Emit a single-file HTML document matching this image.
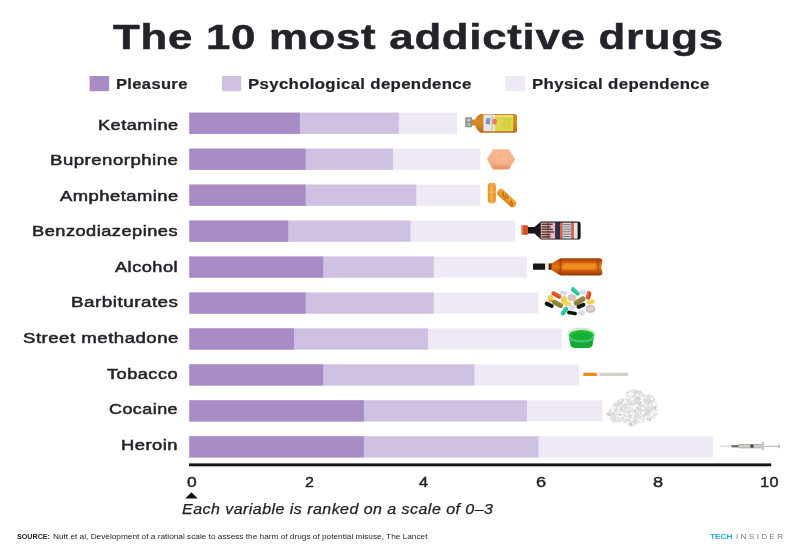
<!DOCTYPE html>
<html><head><meta charset="utf-8"><title>The 10 most addictive drugs</title>
<style>
html,body{margin:0;padding:0;background:#fff;}
body{width:800px;height:555px;position:relative;overflow:hidden;font-family:"Liberation Sans",sans-serif;color:#23232a;}
.t{position:absolute;white-space:nowrap;transform-origin:0 0;line-height:1;}
.a{position:absolute;}
.sw{position:absolute;top:76px;width:19.5px;height:15.2px;}
.bar{position:absolute;height:21.20px;}
.p1{background:#a88cc6;}
.p2{background:#cfc1e2;}
.p3{background:#efe9f6;}
#w{position:absolute;left:0;top:0;width:800px;height:555px;background:#fff;filter:blur(0.45px);}
</style></head><body><div id="w">

<div class="t" id="title" style="left:113.11px;top:20.00px;font-size:35.8px;font-weight:bold;letter-spacing:0.6px;-webkit-text-stroke:0.5px #23232a;transform:scaleX(1.2225);">The 10 most addictive drugs</div>
<div class="t" id="lg1" style="left:116.32px;top:76.75px;font-size:14px;font-weight:bold;letter-spacing:0.3px;-webkit-text-stroke:0.2px #23232a;transform:scaleX(1.1793);">Pleasure</div>
<div class="t" id="lg2" style="left:248.32px;top:76.75px;font-size:14px;font-weight:bold;letter-spacing:0.3px;-webkit-text-stroke:0.2px #23232a;transform:scaleX(1.1966);">Psychological dependence</div>
<div class="t" id="lg3" style="left:532.32px;top:76.75px;font-size:14px;font-weight:bold;letter-spacing:0.3px;-webkit-text-stroke:0.2px #23232a;transform:scaleX(1.1997);">Physical dependence</div>
<div class="t" id="lab0" style="left:97.80px;top:116.52px;font-size:15.1px;letter-spacing:0.4px;-webkit-text-stroke:0.5px #23232a;transform:scaleX(1.2030);">Ketamine</div>
<div class="t" id="lab1" style="left:49.98px;top:152.10px;font-size:15.1px;letter-spacing:0.4px;-webkit-text-stroke:0.5px #23232a;transform:scaleX(1.2319);">Buprenorphine</div>
<div class="t" id="lab2" style="left:59.60px;top:187.68px;font-size:15.1px;letter-spacing:0.4px;-webkit-text-stroke:0.5px #23232a;transform:scaleX(1.2177);">Amphetamine</div>
<div class="t" id="lab3" style="left:32.49px;top:223.26px;font-size:15.1px;letter-spacing:0.4px;-webkit-text-stroke:0.5px #23232a;transform:scaleX(1.2074);">Benzodiazepines</div>
<div class="t" id="lab4" style="left:115.30px;top:258.84px;font-size:15.1px;letter-spacing:0.4px;-webkit-text-stroke:0.5px #23232a;transform:scaleX(1.2046);">Alcohol</div>
<div class="t" id="lab5" style="left:71.06px;top:294.42px;font-size:15.1px;letter-spacing:0.4px;-webkit-text-stroke:0.5px #23232a;transform:scaleX(1.2475);">Barbiturates</div>
<div class="t" id="lab6" style="left:22.51px;top:330.00px;font-size:15.1px;letter-spacing:0.4px;-webkit-text-stroke:0.5px #23232a;transform:scaleX(1.2332);">Street methadone</div>
<div class="t" id="lab7" style="left:107.30px;top:365.58px;font-size:15.1px;letter-spacing:0.4px;-webkit-text-stroke:0.5px #23232a;transform:scaleX(1.2040);">Tobacco</div>
<div class="t" id="lab8" style="left:109.30px;top:401.16px;font-size:15.1px;letter-spacing:0.4px;-webkit-text-stroke:0.5px #23232a;transform:scaleX(1.1869);">Cocaine</div>
<div class="t" id="lab9" style="left:121.29px;top:436.74px;font-size:15.1px;letter-spacing:0.4px;-webkit-text-stroke:0.5px #23232a;transform:scaleX(1.2179);">Heroin</div>
<div class="t" id="tk0" style="left:186.66px;top:474.16px;font-size:15.4px;letter-spacing:0.5px;-webkit-text-stroke:0.45px #23232a;transform:scaleX(1.1361);">0</div>
<div class="t" id="tk2" style="left:304.83px;top:474.16px;font-size:15.4px;letter-spacing:0.5px;-webkit-text-stroke:0.45px #23232a;transform:scaleX(1.0414);">2</div>
<div class="t" id="tk4" style="left:419.24px;top:474.16px;font-size:15.4px;letter-spacing:0.5px;-webkit-text-stroke:0.45px #23232a;transform:scaleX(1.0582);">4</div>
<div class="t" id="tk6" style="left:536.27px;top:474.16px;font-size:15.4px;letter-spacing:0.5px;-webkit-text-stroke:0.45px #23232a;transform:scaleX(1.1834);">6</div>
<div class="t" id="tk8" style="left:652.77px;top:474.16px;font-size:15.4px;letter-spacing:0.5px;-webkit-text-stroke:0.45px #23232a;transform:scaleX(1.1834);">8</div>
<div class="t" id="tk10" style="left:760.18px;top:474.16px;font-size:15.4px;letter-spacing:0.5px;-webkit-text-stroke:0.45px #23232a;transform:scaleX(1.0600);">10</div>
<div class="t" id="cap" style="left:182.14px;top:503.03px;font-size:13.9px;font-style:italic;letter-spacing:0.4px;-webkit-text-stroke:0.25px #23232a;transform:scaleX(1.1513);">Each variable is ranked on a scale of 0–3</div>
<div class="t" id="src1" style="left:17.00px;top:532.74px;font-size:7.4px;font-weight:bold;transform:scaleX(0.9667);">SOURCE:</div>
<div class="t" id="src2" style="left:53.00px;top:532.74px;font-size:7.4px;transform:scaleX(1.1174);">Nutt et al, Development of a rational scale to assess the harm of drugs of potential misuse, The Lancet</div>
<div class="t" id="ti1" style="left:709.50px;top:532.74px;font-size:7.4px;font-weight:bold;color:#2aa9e0;transform:scaleX(1.1122);">TECH</div>
<div class="t" id="ti2" style="left:736.30px;top:532.91px;font-size:7.2px;letter-spacing:2.0px;color:#7c7c7c;transform:scaleX(1.1474);">INSIDER</div>
<svg class="a" style="left:0;top:0" width="800" height="555" viewBox="0 0 800 555"><rect x="189.30" y="112.70" width="267.72" height="21.2" fill="#efe9f6"/><rect x="189.30" y="112.70" width="209.52" height="21.2" fill="#cfc1e2"/><rect x="189.30" y="112.70" width="110.58" height="21.2" fill="#a88cc6"/><rect x="189.30" y="148.65" width="291.00" height="21.2" fill="#efe9f6"/><rect x="189.30" y="148.65" width="203.70" height="21.2" fill="#cfc1e2"/><rect x="189.30" y="148.65" width="116.40" height="21.2" fill="#a88cc6"/><rect x="189.30" y="184.60" width="291.00" height="21.2" fill="#efe9f6"/><rect x="189.30" y="184.60" width="226.98" height="21.2" fill="#cfc1e2"/><rect x="189.30" y="184.60" width="116.40" height="21.2" fill="#a88cc6"/><rect x="189.30" y="220.55" width="325.92" height="21.2" fill="#efe9f6"/><rect x="189.30" y="220.55" width="221.16" height="21.2" fill="#cfc1e2"/><rect x="189.30" y="220.55" width="98.94" height="21.2" fill="#a88cc6"/><rect x="189.30" y="256.50" width="337.56" height="21.2" fill="#efe9f6"/><rect x="189.30" y="256.50" width="244.44" height="21.2" fill="#cfc1e2"/><rect x="189.30" y="256.50" width="133.86" height="21.2" fill="#a88cc6"/><rect x="189.30" y="292.45" width="349.20" height="21.2" fill="#efe9f6"/><rect x="189.30" y="292.45" width="244.44" height="21.2" fill="#cfc1e2"/><rect x="189.30" y="292.45" width="116.40" height="21.2" fill="#a88cc6"/><rect x="189.30" y="328.40" width="372.48" height="21.2" fill="#efe9f6"/><rect x="189.30" y="328.40" width="238.62" height="21.2" fill="#cfc1e2"/><rect x="189.30" y="328.40" width="104.76" height="21.2" fill="#a88cc6"/><rect x="189.30" y="364.35" width="389.94" height="21.2" fill="#efe9f6"/><rect x="189.30" y="364.35" width="285.18" height="21.2" fill="#cfc1e2"/><rect x="189.30" y="364.35" width="133.86" height="21.2" fill="#a88cc6"/><rect x="189.30" y="400.30" width="413.22" height="21.2" fill="#efe9f6"/><rect x="189.30" y="400.30" width="337.56" height="21.2" fill="#cfc1e2"/><rect x="189.30" y="400.30" width="174.60" height="21.2" fill="#a88cc6"/><rect x="189.30" y="436.25" width="523.80" height="21.2" fill="#efe9f6"/><rect x="189.30" y="436.25" width="349.20" height="21.2" fill="#cfc1e2"/><rect x="189.30" y="436.25" width="174.60" height="21.2" fill="#a88cc6"/><rect x="89.6" y="76" width="19.5" height="15.2" fill="#a88cc6"/><rect x="222" y="76" width="19.3" height="15.2" fill="#cfc1e2"/><rect x="505.3" y="76" width="19.7" height="15.2" fill="#efe9f6"/><rect x="189" y="463.4" width="582.2" height="2.9" fill="#16161c"/></svg>
<svg class="a" style="left:185px;top:491.5px" width="13" height="7" viewBox="0 0 13 7"><path d="M6.5 0.3 L12.8 6.6 L0.2 6.6 Z" fill="#16161c"/></svg>
<svg class="a" style="left:0;top:0" width="800" height="555" viewBox="0 0 800 555">
<defs>
<linearGradient id="amb" x1="0" y1="0" x2="0" y2="1"><stop offset="0" stop-color="#9a3e06"/><stop offset="0.25" stop-color="#d05c0c"/><stop offset="0.5" stop-color="#e87a12"/><stop offset="0.75" stop-color="#c8540a"/><stop offset="1" stop-color="#8e3604"/></linearGradient>
<linearGradient id="ket" x1="0" y1="0" x2="0" y2="1"><stop offset="0" stop-color="#c88428"/><stop offset="0.5" stop-color="#d88a22"/><stop offset="1" stop-color="#b06a18"/></linearGradient>
<linearGradient id="cap1" x1="0" y1="0" x2="1" y2="0"><stop offset="0" stop-color="#e88a22"/><stop offset="0.45" stop-color="#f6b24e"/><stop offset="1" stop-color="#e58a1e"/></linearGradient>
<linearGradient id="cap2" x1="0" y1="0" x2="0" y2="1"><stop offset="0" stop-color="#f2a63c"/><stop offset="0.5" stop-color="#ee9a2a"/><stop offset="1" stop-color="#dc8418"/></linearGradient>
<linearGradient id="hex" x1="0" y1="0" x2="0" y2="1"><stop offset="0" stop-color="#f6b890"/><stop offset="0.8" stop-color="#f4ad84"/><stop offset="1" stop-color="#ea986c"/></linearGradient>
<filter id="b3" x="-10%" y="-10%" width="120%" height="120%"><feGaussianBlur stdDeviation="0.35"/></filter>
<filter id="b5" x="-10%" y="-10%" width="120%" height="120%"><feGaussianBlur stdDeviation="0.5"/></filter>
</defs>
<g filter="url(#b3)">
<rect x="465.2" y="117.2" width="6.8" height="10" rx="1" fill="#8c8c82"/>
<rect x="466.6" y="118.6" width="4" height="3" fill="#c4c4bc"/><rect x="466.6" y="123" width="4" height="3" fill="#b4b4ac"/>
<path d="M472 119.6 L475.4 119.6 Q476 116.4 480.4 114 L514.5 114 Q517 114 517 116.5 L517 130.3 Q517 132.8 514.5 132.8 L480.4 132.8 Q476 129.6 475.4 125.6 L472 125.6 Z" fill="url(#ket)"/>
<rect x="483.4" y="114.6" width="11.8" height="16.6" fill="#e6e4de"/>
<rect x="495" y="115" width="18.2" height="16.2" fill="#dcd74c"/>
<rect x="495" y="115" width="18.2" height="2.2" fill="#e6e272"/>
<rect x="503" y="118" width="8" height="11" fill="#cfcf3c" opacity="0.7"/>
<path d="M486 118.5 L490.2 118 L490 124.5 L485.8 124 Z" fill="#5a7ed0" opacity="0.8"/>
<ellipse cx="494.6" cy="121.6" rx="2.4" ry="2.8" fill="#e87a5a"/>
<rect x="491.5" y="116" width="1.2" height="14" fill="#e8a088" opacity="0.8"/>
</g>
<g filter="url(#b3)">
<path d="M489.2 159.3 L494 151.2 L507.8 151.2 L512.8 159.3 L507.8 167.4 L494 167.4 Z" fill="url(#hex)" stroke="url(#hex)" stroke-width="4" stroke-linejoin="round"/>
<text x="501" y="162.6" font-family="Liberation Sans" font-weight="bold" font-size="9" text-anchor="middle" fill="#fac8a8" opacity="0.5">N8</text>
</g>
<g filter="url(#b3)">
<rect x="487.8" y="182.8" width="8" height="20.6" rx="3.4" fill="url(#cap1)"/>
<rect x="487.8" y="191.6" width="8" height="1" fill="#f2b862" opacity="0.8"/>
<g transform="translate(506.8 198.2) rotate(43)"><rect x="-11.6" y="-3.8" width="23.2" height="7.6" rx="3.8" fill="url(#cap2)"/><path d="M-7 -2.5 L-4 1 M-3.5 -3 L-1 2 M-1 -2.6 L0.5 0 M5 -2 L6.5 2.2 M7.5 -1 L8.5 2" stroke="#6a3c10" stroke-width="1" fill="none" opacity="0.6"/></g>
</g>
<g filter="url(#b3)">
<rect x="521.2" y="225.2" width="6.8" height="9.6" rx="1.2" fill="#d8501e"/>
<rect x="521.2" y="225.6" width="1.4" height="8.8" rx="0.7" fill="#eaa48a"/>
<path d="M528 227 L534.5 227 L541 221.6 L578 221.6 Q580.6 221.6 580.6 224.2 L580.6 237 Q580.6 239.6 578 239.6 L541 239.6 L534.5 233.4 L528 233.4 Z" fill="#17141a"/>
<rect x="540.8" y="222.6" width="14.6" height="16" fill="#efb9b8"/>
<rect x="541.6" y="223.6" width="11" height="1.5" fill="#3a2228" opacity="0.85"/>
<rect x="541.6" y="226.2" width="9" height="1.5" fill="#3a2228" opacity="0.85"/>
<rect x="541.6" y="228.6" width="11" height="1.5" fill="#3a2228" opacity="0.85"/>
<rect x="541.6" y="231.2" width="12.5" height="1.5" fill="#3a2228" opacity="0.85"/>
<rect x="541.6" y="233.8" width="9" height="1.5" fill="#3a2228" opacity="0.85"/>
<rect x="541.6" y="236.2" width="9" height="1.5" fill="#3a2228" opacity="0.85"/>
<rect x="547.5" y="222.6" width="1.2" height="16" fill="#3a2a34" opacity="0.5"/>
<rect x="555.2" y="222.6" width="5" height="16" fill="#2b3350"/>
<rect x="560" y="222.6" width="2.4" height="16" fill="#e8603e"/>
<rect x="562.4" y="222.6" width="9.2" height="16" fill="#d6d6da"/>
<rect x="563.2" y="224" width="7.4" height="1" fill="#55555e" opacity="0.7"/>
<rect x="563.2" y="226.4" width="7.4" height="1" fill="#55555e" opacity="0.7"/>
<rect x="563.2" y="228.8" width="7.4" height="1" fill="#55555e" opacity="0.7"/>
<rect x="563.2" y="231.2" width="7.4" height="1" fill="#55555e" opacity="0.7"/>
<rect x="563.2" y="233.6" width="7.4" height="1" fill="#55555e" opacity="0.7"/>
<rect x="563.2" y="236" width="7.4" height="1" fill="#55555e" opacity="0.7"/>
<rect x="571.4" y="222.6" width="2.4" height="16" fill="#e8604a"/>
<rect x="573.8" y="222.6" width="3.8" height="16" fill="#e4e4e8"/>
</g>
<g filter="url(#b3)">
<rect x="533" y="263.4" width="12.4" height="6.4" rx="0.8" fill="#141414"/>
<rect x="545.2" y="263" width="3.6" height="7.2" fill="#ececec"/>
<rect x="548.6" y="263.4" width="3.4" height="6.4" fill="#5a2a0c"/>
<path d="M551.5 263.4 L560.5 258.2 L599.5 258.2 Q602.4 258.4 602.4 261 L601.2 266.9 L602.4 272.8 Q602.4 275.4 599.5 275.6 L560.5 275.6 L551.5 270 Z" fill="url(#amb)"/>
<rect x="563" y="263.2" width="33" height="6.2" rx="2" fill="#f0901c" opacity="0.85"/>
<rect x="559.6" y="259.2" width="1.6" height="15.4" fill="#8a3a06" opacity="0.7"/>
<rect x="597.4" y="259.2" width="1.6" height="15.4" fill="#a04a0a" opacity="0.7"/>
</g>
<g filter="url(#b3)">
<ellipse cx="563.4" cy="293" rx="3.6" ry="2.5" fill="#dadaea" transform="rotate(0 563.4 293)"/>
<ellipse cx="582.8" cy="292" rx="3.4" ry="2.6" fill="#dcdcec" transform="rotate(0 582.8 292)"/>
<g transform="translate(556.4 295) rotate(28)"><rect x="-5.40" y="-2.10" width="10.8" height="4.2" rx="2.10" fill="#e04a1a"/><rect x="-4.40" y="-1.50" width="8.8" height="1.26" rx="0.63" fill="#f08050" opacity="0.6"/></g>
<ellipse cx="550.4" cy="298" rx="2.9" ry="2.9" fill="#f0d252" transform="rotate(0 550.4 298)"/>
<ellipse cx="550.6" cy="301" rx="2" ry="1.2" fill="#f0a030" transform="rotate(0 550.6 301)"/>
<g transform="translate(549.2 304.8) rotate(25)"><rect x="-4.80" y="-2.00" width="9.6" height="4" rx="2.00" fill="#10160f"/></g>
<g transform="translate(557.6 303.8) rotate(30)"><rect x="-6.00" y="-2.50" width="12" height="5" rx="2.50" fill="#8e7e3a"/><rect x="-5.00" y="-1.90" width="10" height="1.50" rx="0.75" fill="#a8985a" opacity="0.6"/></g>
<ellipse cx="572" cy="297.6" rx="4.5" ry="3.6" fill="#d9c4c4" transform="rotate(0 572 297.6)"/>
<g transform="translate(575.4 291.4) rotate(42)"><rect x="-5.20" y="-2.10" width="10.4" height="4.2" rx="2.10" fill="#22c0a0"/><rect x="-4.20" y="-1.50" width="8.4" height="1.26" rx="0.63" fill="#70e0c8" opacity="0.6"/></g>
<g transform="translate(588.6 295.4) rotate(-75)"><rect x="-4.30" y="-2.30" width="8.6" height="4.6" rx="2.30" fill="#e04a1a"/><rect x="-3.30" y="-1.70" width="6.6" height="1.38" rx="0.69" fill="#f08050" opacity="0.6"/></g>
<g transform="translate(579.6 301) rotate(-32)"><rect x="-6.40" y="-2.70" width="12.8" height="5.4" rx="2.70" fill="#8e7e3a"/><rect x="-5.40" y="-2.10" width="10.8" height="1.62" rx="0.81" fill="#a8985a" opacity="0.6"/></g>
<ellipse cx="564" cy="300" rx="3.1" ry="3.9" fill="#f0d252" transform="rotate(0 564 300)"/>
<ellipse cx="567.2" cy="303.6" rx="4" ry="2.4" fill="#f2d65a" transform="rotate(10 567.2 303.6)"/>
<ellipse cx="590.8" cy="302" rx="4" ry="2.4" fill="#f0d252" transform="rotate(-10 590.8 302)"/>
<ellipse cx="572" cy="307.6" rx="3.6" ry="2.8" fill="#dedeee" transform="rotate(0 572 307.6)"/>
<g transform="translate(581 305.8) rotate(-22)"><rect x="-4.60" y="-2.00" width="9.2" height="4" rx="2.00" fill="#10160f"/></g>
<ellipse cx="590.4" cy="308.8" rx="5" ry="4" fill="#cdbaba" transform="rotate(0 590.4 308.8)"/>
<ellipse cx="590.4" cy="308.6" rx="3.4" ry="2.6" fill="#ddd0d0" transform="rotate(0 590.4 308.6)"/>
<g transform="translate(564.4 311) rotate(-55)"><rect x="-5.00" y="-2.20" width="10" height="4.4" rx="2.20" fill="#22c0a0"/><rect x="-4.00" y="-1.60" width="8" height="1.32" rx="0.66" fill="#70e0c8" opacity="0.6"/></g>
<g transform="translate(572 313) rotate(10)"><rect x="-5.00" y="-1.80" width="10" height="3.6" rx="1.80" fill="#10160f"/></g>
<ellipse cx="581.6" cy="312.8" rx="3.6" ry="2.8" fill="#dcdcec" transform="rotate(0 581.6 312.8)"/>
</g>
<g filter="url(#b3)">
<path d="M568.6 335 L570.6 345.6 Q571 347.6 574 348 L589 348 Q592 347.6 592.4 345.6 L594.4 335 Z" fill="#16a830"/>
<path d="M569.2 338.6 Q581.5 343.4 593.8 338.6 L593.5 340.2 Q581.5 345 569.5 340.2 Z" fill="#5ccf9a" opacity="0.75"/>
<ellipse cx="581.5" cy="334" rx="14.2" ry="6.4" fill="#cfe9cf"/>
<ellipse cx="581.5" cy="335.2" rx="12.4" ry="5.2" fill="#22bc3c"/>
<ellipse cx="581.5" cy="336.4" rx="10.5" ry="3.6" fill="#18b032"/>
</g>
<g filter="url(#b3)">
<rect x="583.4" y="372.8" width="44.6" height="3.2" rx="0.4" fill="#d2d2c6"/>
<rect x="596.4" y="372.8" width="3.8" height="3.2" fill="#e9e9e2"/>
<rect x="583.4" y="372.8" width="13.2" height="3.2" rx="0.4" fill="#e8901c"/>
</g>
<g filter="url(#b5)">
<path d="M607.4 413.6 L611 407 L616.6 400.5 L621 398.5 L625.4 399.6 L626 395 L627 391.7 L631 390 L635 389.5 L640 391 L645.5 394.4 L649 394.6 L652.5 396 L656 401 L658.2 408.4 L657 414 L654.2 418 L649 420.6 L642 422.4 L636 424.6 L630.6 425.9 L626 423.6 L622.7 421.5 L618 422.6 L614 422.4 L611 420.6 L609.6 418 Z" fill="#e0e0e0"/>
<circle cx="637.5" cy="423.5" r="0.6" fill="#eeeeee"/>
<circle cx="629.4" cy="390.7" r="1.0" fill="#ffffff"/>
<circle cx="657.2" cy="412.6" r="1.4" fill="#f8f8f8"/>
<circle cx="637.2" cy="403.5" r="0.6" fill="#eeeeee"/>
<circle cx="652.4" cy="399.3" r="1.0" fill="#f6f6f6"/>
<circle cx="636.8" cy="409.9" r="0.7" fill="#f6f6f6"/>
<circle cx="636.8" cy="395.3" r="1.0" fill="#ffffff"/>
<circle cx="617.1" cy="414.5" r="1.2" fill="#cacaca"/>
<circle cx="631.1" cy="424.0" r="0.8" fill="#d2d2d2"/>
<circle cx="648.9" cy="415.3" r="0.7" fill="#eeeeee"/>
<circle cx="622.2" cy="407.3" r="1.2" fill="#d2d2d2"/>
<circle cx="642.1" cy="417.8" r="1.2" fill="#f8f8f8"/>
<circle cx="650.2" cy="401.3" r="1.1" fill="#d2d2d2"/>
<circle cx="637.3" cy="405.8" r="1.4" fill="#ffffff"/>
<circle cx="631.6" cy="413.9" r="1.2" fill="#ffffff"/>
<circle cx="622.7" cy="410.5" r="0.8" fill="#fcfcfc"/>
<circle cx="626.8" cy="414.1" r="1.4" fill="#ffffff"/>
<circle cx="625.2" cy="411.8" r="0.6" fill="#fcfcfc"/>
<circle cx="619.4" cy="403.2" r="0.7" fill="#fcfcfc"/>
<circle cx="630.3" cy="409.4" r="1.3" fill="#f6f6f6"/>
<circle cx="652.7" cy="398.9" r="1.4" fill="#cacaca"/>
<circle cx="642.9" cy="402.8" r="0.7" fill="#eeeeee"/>
<circle cx="618.6" cy="406.9" r="0.7" fill="#f8f8f8"/>
<circle cx="634.9" cy="411.8" r="1.4" fill="#d2d2d2"/>
<circle cx="643.3" cy="408.1" r="1.1" fill="#f8f8f8"/>
<circle cx="645.9" cy="405.8" r="0.9" fill="#e6e6e6"/>
<circle cx="627.5" cy="392.0" r="0.6" fill="#cacaca"/>
<circle cx="653.2" cy="411.9" r="1.1" fill="#f6f6f6"/>
<circle cx="631.6" cy="392.5" r="1.4" fill="#fcfcfc"/>
<circle cx="631.2" cy="406.9" r="0.7" fill="#ffffff"/>
<circle cx="646.5" cy="416.9" r="1.3" fill="#fcfcfc"/>
<circle cx="657.4" cy="408.6" r="1.2" fill="#f6f6f6"/>
<circle cx="622.1" cy="413.1" r="1.2" fill="#ffffff"/>
<circle cx="620.1" cy="402.3" r="0.9" fill="#f6f6f6"/>
<circle cx="618.0" cy="409.1" r="0.9" fill="#e6e6e6"/>
<circle cx="618.0" cy="419.6" r="1.2" fill="#eeeeee"/>
<circle cx="650.2" cy="416.9" r="0.8" fill="#eeeeee"/>
<circle cx="632.6" cy="416.5" r="1.2" fill="#ffffff"/>
<circle cx="631.5" cy="395.6" r="1.4" fill="#f8f8f8"/>
<circle cx="630.2" cy="424.5" r="1.4" fill="#d2d2d2"/>
<circle cx="617.0" cy="412.3" r="1.3" fill="#f8f8f8"/>
<circle cx="631.9" cy="413.5" r="1.3" fill="#ffffff"/>
<circle cx="644.4" cy="395.8" r="0.9" fill="#f6f6f6"/>
<circle cx="640.3" cy="391.4" r="1.0" fill="#cacaca"/>
<circle cx="631.1" cy="413.6" r="1.3" fill="#f8f8f8"/>
<circle cx="624.9" cy="409.4" r="0.6" fill="#f6f6f6"/>
<circle cx="649.2" cy="416.3" r="1.0" fill="#ffffff"/>
<circle cx="656.4" cy="404.9" r="1.3" fill="#eeeeee"/>
<circle cx="637.7" cy="398.1" r="1.3" fill="#cacaca"/>
<circle cx="609.3" cy="416.9" r="1.1" fill="#fcfcfc"/>
<circle cx="650.0" cy="408.2" r="0.7" fill="#e6e6e6"/>
<circle cx="614.2" cy="407.9" r="1.2" fill="#fcfcfc"/>
<circle cx="638.9" cy="418.3" r="0.7" fill="#f6f6f6"/>
<circle cx="631.6" cy="416.3" r="0.6" fill="#e6e6e6"/>
<circle cx="642.8" cy="408.7" r="1.2" fill="#fcfcfc"/>
<circle cx="611.7" cy="409.9" r="0.8" fill="#eeeeee"/>
<circle cx="638.7" cy="395.8" r="1.0" fill="#dcdcdc"/>
<circle cx="634.8" cy="406.6" r="1.2" fill="#eeeeee"/>
<circle cx="620.0" cy="409.8" r="1.3" fill="#eeeeee"/>
<circle cx="629.9" cy="390.8" r="0.9" fill="#eeeeee"/>
<circle cx="612.6" cy="418.3" r="0.7" fill="#d2d2d2"/>
<circle cx="627.5" cy="407.0" r="0.7" fill="#eeeeee"/>
<circle cx="629.3" cy="408.1" r="0.9" fill="#d2d2d2"/>
<circle cx="625.8" cy="401.2" r="1.0" fill="#fcfcfc"/>
<circle cx="639.7" cy="408.0" r="0.7" fill="#ffffff"/>
<circle cx="615.8" cy="417.5" r="1.3" fill="#cacaca"/>
<circle cx="627.9" cy="408.9" r="1.1" fill="#e6e6e6"/>
<circle cx="609.1" cy="414.8" r="1.3" fill="#cacaca"/>
<circle cx="638.8" cy="396.7" r="1.3" fill="#dcdcdc"/>
<circle cx="630.5" cy="401.2" r="0.9" fill="#e6e6e6"/>
<circle cx="655.4" cy="412.2" r="1.0" fill="#ffffff"/>
<circle cx="622.5" cy="417.6" r="1.0" fill="#dcdcdc"/>
<circle cx="642.3" cy="398.6" r="1.4" fill="#ffffff"/>
<circle cx="633.8" cy="397.6" r="0.7" fill="#fcfcfc"/>
<circle cx="650.2" cy="404.9" r="1.0" fill="#fcfcfc"/>
<circle cx="653.6" cy="416.4" r="0.9" fill="#f6f6f6"/>
<circle cx="646.0" cy="398.0" r="0.6" fill="#f6f6f6"/>
<circle cx="641.9" cy="402.9" r="1.1" fill="#e6e6e6"/>
<circle cx="621.8" cy="405.9" r="0.8" fill="#f6f6f6"/>
<circle cx="641.4" cy="397.7" r="0.7" fill="#ffffff"/>
<circle cx="637.7" cy="403.4" r="0.8" fill="#dcdcdc"/>
<circle cx="618.6" cy="410.8" r="1.3" fill="#e6e6e6"/>
<circle cx="648.3" cy="411.3" r="1.2" fill="#d2d2d2"/>
<circle cx="632.7" cy="399.1" r="1.1" fill="#f8f8f8"/>
<circle cx="654.2" cy="412.5" r="0.7" fill="#e6e6e6"/>
<circle cx="634.3" cy="407.7" r="1.3" fill="#ffffff"/>
<circle cx="637.5" cy="422.8" r="0.7" fill="#eeeeee"/>
<circle cx="608.3" cy="412.8" r="0.9" fill="#ffffff"/>
<circle cx="630.7" cy="390.7" r="1.3" fill="#e6e6e6"/>
<circle cx="611.0" cy="408.5" r="0.8" fill="#fcfcfc"/>
<circle cx="645.4" cy="396.0" r="1.0" fill="#fcfcfc"/>
<circle cx="626.7" cy="406.7" r="1.2" fill="#dcdcdc"/>
<circle cx="639.3" cy="413.1" r="1.1" fill="#ffffff"/>
<circle cx="623.9" cy="413.4" r="1.1" fill="#dcdcdc"/>
<circle cx="613.2" cy="406.8" r="0.8" fill="#fcfcfc"/>
<circle cx="642.3" cy="415.0" r="0.8" fill="#fcfcfc"/>
<circle cx="633.9" cy="406.1" r="1.2" fill="#fcfcfc"/>
<circle cx="631.5" cy="399.3" r="1.3" fill="#ffffff"/>
<circle cx="637.4" cy="393.5" r="0.8" fill="#e6e6e6"/>
<circle cx="625.4" cy="411.5" r="0.8" fill="#e6e6e6"/>
<circle cx="632.9" cy="422.2" r="0.6" fill="#cacaca"/>
<circle cx="630.3" cy="399.8" r="0.9" fill="#f6f6f6"/>
<circle cx="623.9" cy="400.7" r="1.3" fill="#d2d2d2"/>
<circle cx="621.7" cy="402.5" r="0.9" fill="#cacaca"/>
<circle cx="652.1" cy="398.9" r="1.3" fill="#ffffff"/>
<circle cx="633.6" cy="395.4" r="1.2" fill="#d2d2d2"/>
<circle cx="647.1" cy="403.6" r="1.0" fill="#e6e6e6"/>
<circle cx="645.5" cy="405.6" r="1.1" fill="#f6f6f6"/>
<circle cx="631.5" cy="401.4" r="0.8" fill="#dcdcdc"/>
<circle cx="645.9" cy="413.5" r="1.1" fill="#cacaca"/>
<circle cx="622.2" cy="409.7" r="0.7" fill="#cacaca"/>
<circle cx="633.0" cy="419.7" r="0.8" fill="#e6e6e6"/>
<circle cx="630.3" cy="393.4" r="0.8" fill="#eeeeee"/>
<circle cx="615.4" cy="409.7" r="0.8" fill="#d2d2d2"/>
<circle cx="620.0" cy="410.2" r="1.2" fill="#ffffff"/>
<circle cx="628.3" cy="404.1" r="0.8" fill="#e6e6e6"/>
<circle cx="620.6" cy="417.3" r="0.8" fill="#fcfcfc"/>
<circle cx="633.2" cy="412.6" r="0.7" fill="#eeeeee"/>
<circle cx="654.4" cy="403.0" r="0.9" fill="#fcfcfc"/>
<circle cx="622.8" cy="419.8" r="0.7" fill="#ffffff"/>
<circle cx="629.0" cy="417.8" r="1.4" fill="#fcfcfc"/>
<circle cx="632.5" cy="390.9" r="1.3" fill="#e6e6e6"/>
<circle cx="634.2" cy="414.6" r="0.7" fill="#fcfcfc"/>
<circle cx="612.8" cy="410.2" r="1.1" fill="#ffffff"/>
<circle cx="619.6" cy="412.8" r="0.7" fill="#ffffff"/>
<circle cx="621.0" cy="400.3" r="1.0" fill="#eeeeee"/>
<circle cx="632.9" cy="414.3" r="0.7" fill="#cacaca"/>
<circle cx="618.3" cy="404.5" r="0.8" fill="#d2d2d2"/>
<circle cx="628.7" cy="414.6" r="0.6" fill="#eeeeee"/>
<circle cx="621.8" cy="421.0" r="0.8" fill="#ffffff"/>
<circle cx="650.3" cy="397.0" r="0.8" fill="#eeeeee"/>
<circle cx="639.7" cy="411.8" r="1.0" fill="#eeeeee"/>
<circle cx="638.2" cy="404.2" r="0.7" fill="#ffffff"/>
<circle cx="630.3" cy="415.8" r="1.2" fill="#d2d2d2"/>
<circle cx="607.7" cy="413.9" r="1.3" fill="#cacaca"/>
<circle cx="653.8" cy="409.9" r="0.9" fill="#eeeeee"/>
<circle cx="647.5" cy="400.0" r="0.7" fill="#cacaca"/>
<circle cx="644.1" cy="395.6" r="1.3" fill="#e6e6e6"/>
<circle cx="616.4" cy="402.2" r="0.6" fill="#fcfcfc"/>
<circle cx="628.2" cy="419.7" r="0.6" fill="#cacaca"/>
<circle cx="620.2" cy="415.9" r="1.3" fill="#d2d2d2"/>
<circle cx="622.1" cy="416.1" r="1.3" fill="#f8f8f8"/>
<circle cx="631.7" cy="425.3" r="1.2" fill="#cacaca"/>
<circle cx="613.2" cy="407.4" r="1.2" fill="#ffffff"/>
<circle cx="645.9" cy="420.1" r="1.1" fill="#f6f6f6"/>
<circle cx="623.7" cy="400.5" r="1.2" fill="#d2d2d2"/>
<circle cx="638.2" cy="408.0" r="1.2" fill="#cacaca"/>
<circle cx="611.2" cy="407.4" r="0.7" fill="#fcfcfc"/>
<circle cx="613.2" cy="406.0" r="1.2" fill="#eeeeee"/>
<circle cx="651.7" cy="413.9" r="1.2" fill="#ffffff"/>
<circle cx="621.9" cy="398.9" r="0.9" fill="#dcdcdc"/>
<circle cx="645.9" cy="395.8" r="0.7" fill="#eeeeee"/>
<circle cx="619.3" cy="408.5" r="1.1" fill="#ffffff"/>
<circle cx="631.6" cy="419.9" r="1.3" fill="#fcfcfc"/>
<circle cx="656.2" cy="402.5" r="1.0" fill="#f6f6f6"/>
<circle cx="620.0" cy="418.3" r="0.7" fill="#ffffff"/>
<circle cx="638.2" cy="412.2" r="0.6" fill="#eeeeee"/>
<circle cx="650.0" cy="419.9" r="1.1" fill="#cacaca"/>
<circle cx="617.0" cy="419.0" r="1.0" fill="#e6e6e6"/>
<circle cx="628.0" cy="419.0" r="0.7" fill="#e6e6e6"/>
<circle cx="634.8" cy="413.5" r="1.2" fill="#cacaca"/>
<circle cx="628.1" cy="399.0" r="0.9" fill="#dcdcdc"/>
<circle cx="653.7" cy="404.1" r="1.3" fill="#ffffff"/>
<circle cx="616.6" cy="416.4" r="1.4" fill="#eeeeee"/>
<circle cx="629.4" cy="394.1" r="1.3" fill="#ffffff"/>
<circle cx="627.9" cy="422.4" r="1.2" fill="#fcfcfc"/>
<circle cx="613.7" cy="419.5" r="0.7" fill="#cacaca"/>
<circle cx="639.6" cy="402.5" r="0.7" fill="#e6e6e6"/>
<circle cx="626.7" cy="417.4" r="0.8" fill="#eeeeee"/>
<circle cx="655.3" cy="400.3" r="1.3" fill="#f8f8f8"/>
<circle cx="626.9" cy="423.3" r="1.2" fill="#f8f8f8"/>
<circle cx="654.1" cy="413.0" r="1.1" fill="#eeeeee"/>
<circle cx="639.2" cy="395.6" r="0.7" fill="#fcfcfc"/>
<circle cx="617.8" cy="403.6" r="0.7" fill="#e6e6e6"/>
<circle cx="616.4" cy="422.5" r="1.1" fill="#ffffff"/>
<circle cx="623.5" cy="403.2" r="1.0" fill="#fcfcfc"/>
<circle cx="639.9" cy="399.9" r="0.8" fill="#cacaca"/>
<circle cx="619.5" cy="403.2" r="1.0" fill="#d2d2d2"/>
<circle cx="639.4" cy="407.1" r="1.0" fill="#eeeeee"/>
<circle cx="639.4" cy="419.9" r="1.2" fill="#f6f6f6"/>
<circle cx="625.4" cy="402.2" r="1.0" fill="#fcfcfc"/>
<circle cx="622.9" cy="416.1" r="0.6" fill="#ffffff"/>
<circle cx="633.2" cy="402.7" r="0.6" fill="#f6f6f6"/>
<circle cx="609.6" cy="412.0" r="0.8" fill="#ffffff"/>
<circle cx="614.9" cy="418.7" r="0.7" fill="#eeeeee"/>
<circle cx="624.9" cy="417.5" r="0.9" fill="#f6f6f6"/>
<circle cx="639.1" cy="423.3" r="0.7" fill="#fcfcfc"/>
<circle cx="633.1" cy="423.9" r="1.1" fill="#eeeeee"/>
<circle cx="639.3" cy="397.3" r="0.6" fill="#d2d2d2"/>
<circle cx="656.6" cy="414.5" r="0.7" fill="#cacaca"/>
<circle cx="634.7" cy="412.8" r="1.4" fill="#d2d2d2"/>
<circle cx="630.5" cy="408.3" r="0.8" fill="#ffffff"/>
<circle cx="634.9" cy="421.4" r="0.8" fill="#d2d2d2"/>
<circle cx="625.5" cy="417.8" r="0.8" fill="#fcfcfc"/>
<circle cx="622.0" cy="408.1" r="1.1" fill="#dcdcdc"/>
<circle cx="641.8" cy="400.2" r="1.2" fill="#ffffff"/>
<circle cx="639.8" cy="404.3" r="1.3" fill="#d2d2d2"/>
<circle cx="618.1" cy="410.8" r="0.7" fill="#f8f8f8"/>
<circle cx="625.8" cy="420.3" r="0.7" fill="#f6f6f6"/>
<circle cx="640.5" cy="422.0" r="0.9" fill="#dcdcdc"/>
<circle cx="640.8" cy="409.9" r="1.1" fill="#d2d2d2"/>
<circle cx="637.2" cy="411.5" r="1.2" fill="#e6e6e6"/>
<circle cx="627.9" cy="397.3" r="1.3" fill="#ffffff"/>
<circle cx="611.7" cy="411.9" r="0.7" fill="#eeeeee"/>
<circle cx="616.8" cy="411.7" r="1.1" fill="#e6e6e6"/>
<circle cx="628.4" cy="411.9" r="0.8" fill="#e6e6e6"/>
<circle cx="651.6" cy="417.1" r="0.7" fill="#fcfcfc"/>
<circle cx="641.4" cy="394.8" r="0.8" fill="#ffffff"/>
<circle cx="640.8" cy="392.8" r="1.2" fill="#dcdcdc"/>
<circle cx="620.4" cy="409.6" r="1.1" fill="#cacaca"/>
<circle cx="633.4" cy="394.6" r="1.3" fill="#eeeeee"/>
<circle cx="627.0" cy="411.4" r="1.3" fill="#cacaca"/>
<circle cx="640.1" cy="415.0" r="1.0" fill="#e6e6e6"/>
<circle cx="651.3" cy="415.2" r="0.9" fill="#ffffff"/>
<circle cx="645.1" cy="410.2" r="1.2" fill="#dcdcdc"/>
<circle cx="627.1" cy="410.8" r="1.3" fill="#f8f8f8"/>
<circle cx="643.4" cy="412.7" r="1.2" fill="#ffffff"/>
<circle cx="609.6" cy="411.0" r="0.8" fill="#d2d2d2"/>
<circle cx="657.5" cy="408.8" r="1.3" fill="#ffffff"/>
<circle cx="646.8" cy="415.7" r="0.7" fill="#cacaca"/>
<circle cx="649.8" cy="412.7" r="1.0" fill="#dcdcdc"/>
<circle cx="613.2" cy="418.9" r="0.8" fill="#eeeeee"/>
<circle cx="638.5" cy="406.6" r="1.1" fill="#dcdcdc"/>
<circle cx="629.6" cy="418.1" r="1.0" fill="#d2d2d2"/>
<circle cx="644.6" cy="420.3" r="1.3" fill="#f8f8f8"/>
<circle cx="616.9" cy="417.7" r="0.6" fill="#ffffff"/>
<circle cx="632.5" cy="407.2" r="1.4" fill="#f6f6f6"/>
<circle cx="633.8" cy="410.5" r="0.8" fill="#f6f6f6"/>
<circle cx="617.6" cy="415.3" r="0.7" fill="#fcfcfc"/>
<circle cx="636.3" cy="392.1" r="0.9" fill="#d2d2d2"/>
<circle cx="627.7" cy="403.4" r="0.9" fill="#ffffff"/>
<circle cx="640.9" cy="402.5" r="0.8" fill="#dcdcdc"/>
<circle cx="654.7" cy="407.5" r="1.4" fill="#cacaca"/>
<circle cx="612.9" cy="411.2" r="1.1" fill="#f8f8f8"/>
<circle cx="624.8" cy="400.7" r="1.3" fill="#f6f6f6"/>
<circle cx="630.3" cy="409.6" r="0.7" fill="#d2d2d2"/>
<circle cx="629.7" cy="418.2" r="0.8" fill="#f8f8f8"/>
<circle cx="624.0" cy="413.1" r="1.0" fill="#eeeeee"/>
<circle cx="620.4" cy="417.4" r="0.7" fill="#f8f8f8"/>
<circle cx="623.6" cy="408.4" r="0.8" fill="#f6f6f6"/>
<circle cx="614.9" cy="413.7" r="0.9" fill="#eeeeee"/>
<circle cx="645.6" cy="405.0" r="0.7" fill="#eeeeee"/>
<circle cx="653.8" cy="406.1" r="0.9" fill="#ffffff"/>
<circle cx="648.7" cy="415.0" r="1.4" fill="#e6e6e6"/>
<circle cx="619.9" cy="416.8" r="1.2" fill="#ffffff"/>
<circle cx="655.0" cy="404.8" r="1.1" fill="#f8f8f8"/>
<circle cx="640.9" cy="421.0" r="1.3" fill="#f8f8f8"/>
<circle cx="642.7" cy="413.0" r="0.9" fill="#fcfcfc"/>
<circle cx="620.0" cy="415.3" r="0.8" fill="#cacaca"/>
<circle cx="627.6" cy="415.8" r="0.8" fill="#f6f6f6"/>
<circle cx="628.9" cy="405.8" r="1.3" fill="#f8f8f8"/>
<circle cx="634.0" cy="413.8" r="1.3" fill="#f6f6f6"/>
<circle cx="617.8" cy="415.9" r="1.0" fill="#eeeeee"/>
<circle cx="611.5" cy="410.4" r="0.8" fill="#e6e6e6"/>
<circle cx="648.8" cy="402.4" r="0.9" fill="#d2d2d2"/>
<circle cx="643.0" cy="403.3" r="1.2" fill="#ffffff"/>
<circle cx="639.2" cy="412.9" r="0.8" fill="#dcdcdc"/>
<circle cx="628.6" cy="404.4" r="1.1" fill="#d2d2d2"/>
<circle cx="616.4" cy="413.0" r="1.3" fill="#eeeeee"/>
<circle cx="613.9" cy="414.0" r="1.0" fill="#cacaca"/>
</g>
<g filter="url(#b3)" opacity="0.85">
<rect x="720" y="445.7" width="12" height="0.9" fill="#bcbcbc"/>
<rect x="731.5" y="445" width="7.6" height="2.4" rx="0.6" fill="#6e5c52"/>
<rect x="739" y="444" width="23" height="4.2" rx="0.6" fill="#c6cac2"/>
<rect x="739" y="444" width="23" height="0.8" fill="#9c9c94"/><rect x="739" y="447.4" width="23" height="0.8" fill="#9c9c94"/>
<rect x="750.4" y="444.4" width="3.2" height="3.4" rx="0.8" fill="#2c2c2c"/>
<rect x="761.6" y="442" width="2.4" height="8.2" rx="0.8" fill="#bcc0b8"/>
<rect x="764" y="445.8" width="14.4" height="1.2" fill="#b4b8b0"/>
<rect x="778" y="444.4" width="1.8" height="3.8" rx="0.6" fill="#aeb2aa"/>
</g>
</svg>
</div></body></html>
